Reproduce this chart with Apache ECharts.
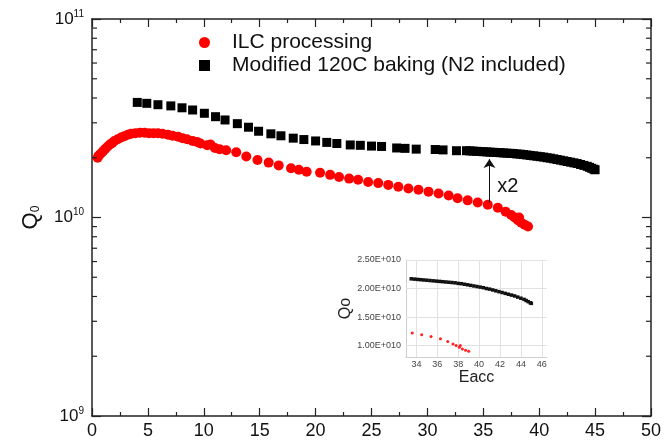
<!DOCTYPE html>
<html>
<head>
<meta charset="utf-8">
<script src="https://cdn.jsdelivr.net/npm/echarts/dist/echarts.min.js"></script>
<style>
html,body{margin:0;padding:0;background:#fff;}
#chart{width:664px;height:441px;}
</style>
</head>
<body>
<div id="chart"></div>
<script>
// ---- data (Eacc in MV/m, Q0) ----
const ilcEacc = [0.5,0.6,0.8,1.0,1.2,1.4,1.6,1.8,2.0,2.3,2.6,2.9,3.2,3.5,3.9,4.3,4.7,5.1,5.5,5.9,6.3,6.8,7.2,7.7,8.1,8.5,9.0,9.4,9.7,10.3,10.6,11.0,11.4,12.0,12.9,13.8,14.8,15.8,16.7,17.8,18.5,19.2,20.4,21.3,22.1,23.0,23.8,24.7,25.6,26.5,27.4,28.3,29.2,30.1,31.0,31.9,32.7,33.6,34.5,35.4,36.3,37.0,37.5,37.8,38.1,38.2,38.4,38.7,39.0];
const ilcQ = [2.00e10,2.05e10,2.10e10,2.16e10,2.22e10,2.28e10,2.33e10,2.37e10,2.43e10,2.48e10,2.53e10,2.57e10,2.61e10,2.64e10,2.66e10,2.67e10,2.67e10,2.66e10,2.66e10,2.66e10,2.64e10,2.61e10,2.58e10,2.55e10,2.51e10,2.48e10,2.43e10,2.40e10,2.36e10,2.31e10,2.33e10,2.24e10,2.21e10,2.18e10,2.13e10,2.03e10,1.95e10,1.89e10,1.83e10,1.77e10,1.74e10,1.70e10,1.68e10,1.64e10,1.60e10,1.57e10,1.55e10,1.51e10,1.49e10,1.46e10,1.43e10,1.40e10,1.38e10,1.35e10,1.32e10,1.29e10,1.25e10,1.22e10,1.19e10,1.16e10,1.12e10,1.07e10,1.03e10,1.00e10,0.97e10,1.00e10,0.94e10,0.92e10,0.90e10];

const bakeEacc = [4.05,4.9,5.9,7.05,8.05,9.0,10.05,11.05,11.9,13.0,14.0,14.9,16.0,16.9,18.0,18.95,20.0,21.0,21.9,23.1,24.0,25.0,25.9,27.25,28.0,29.0,30.7,31.4,32.6,33.5,33.8,34.1,34.4,34.7,35.0,35.3,35.6,35.9,36.2,36.5,36.8,37.1,37.4,37.7,38.0,38.3,38.6,38.9,39.2,39.5,39.8,40.1,40.4,40.7,41.0,41.3,41.6,41.9,42.2,42.5,42.8,43.1,43.4,43.7,44.0,44.3,44.5,44.7,44.9,45.0];
const bakeQ = [3.80e10,3.76e10,3.70e10,3.65e10,3.57e10,3.48e10,3.35e10,3.22e10,3.10e10,2.97e10,2.85e10,2.72e10,2.64e10,2.58e10,2.51e10,2.47e10,2.43e10,2.39e10,2.36e10,2.32e10,2.31e10,2.29e10,2.28e10,2.24e10,2.23e10,2.21e10,2.20e10,2.19e10,2.17e10,2.17e10,2.165e10,2.16e10,2.155e10,2.15e10,2.145e10,2.14e10,2.135e10,2.13e10,2.125e10,2.12e10,2.115e10,2.11e10,2.105e10,2.10e10,2.09e10,2.085e10,2.075e10,2.065e10,2.055e10,2.045e10,2.035e10,2.025e10,2.015e10,2.00e10,1.99e10,1.975e10,1.96e10,1.945e10,1.93e10,1.915e10,1.90e10,1.885e10,1.87e10,1.85e10,1.83e10,1.81e10,1.79e10,1.77e10,1.75e10,1.74e10];

const seriesNames = ['ILC processing', 'Modified 120C baking (N2 included)'];
const xTickLabels = [0,5,10,15,20,25,30,35,40,45,50];
const yMinorTicks = [2e9,3e9,4e9,5e9,6e9,7e9,8e9,9e9,2e10,3e10,4e10,5e10,6e10,7e10,8e10,9e10];
const insetXLabels = [34,36,38,40,42,44,46];
const insetYLabels = [1.0e10,1.5e10,2.0e10,2.5e10];
const arrowEacc = 35.55, arrowFrom = 1.19e10, arrowTo = 1.97e10;
const arrowText = 'x2';
const insetFrom = 33;

// ---- build ----
const ilcData = ilcEacc.map((e, i) => [e, ilcQ[i]]);
const bakeData = bakeEacc.map((e, i) => [e, bakeQ[i]]);
const ilcInset = ilcData.filter(d => d[0] >= insetFrom);
const bakeInset = bakeData.filter(d => d[0] >= insetFrom);

const FONT = "'Liberation Sans', Arial, sans-serif";
const chart = echarts.init(document.getElementById('chart'), null, {renderer: 'canvas'});

const mainX = {
  type: 'value', min: 0, max: 50, interval: 5, gridIndex: 0,
  axisLine: {show: true, onZero: false, lineStyle: {color: '#222', width: 1.5}},
  axisTick: {show: true, inside: true, length: 8, lineStyle: {color: '#222', width: 1.2}},
  minorTick: {show: true, splitNumber: 2, length: 4, lineStyle: {color: '#222', width: 1.2}},
  splitLine: {show: false}
};
const mainY = {
  type: 'log', logBase: 10, min: 1e9, max: 1e11, splitNumber: 2, gridIndex: 0,
  axisLine: {show: true, onZero: false, lineStyle: {color: '#222', width: 1.5}},
  axisTick: {show: true, inside: true, length: 9, lineStyle: {color: '#222', width: 1.2}},
  splitLine: {show: false}
};

const option = {
  backgroundColor: '#fff',
  animation: false,
  textStyle: {fontFamily: FONT},
  legend: {
    data: [
      {name: seriesNames[0], icon: 'circle'},
      {name: seriesNames[1], icon: 'square'}
    ],
    orient: 'vertical', left: 199, top: 32, padding: 0,
    itemWidth: 11, itemHeight: 11, itemGap: 2,
    textStyle: {fontSize: 21, color: '#111', fontFamily: FONT, lineHeight: 21, padding: [0,0,0,17]}
  },
  grid: [
    {left: 92, right: 10, top: 19, bottom: 25, containLabel: false},
    {left: 406, top: 260, width: 141, height: 97, containLabel: false}
  ],
  xAxis: [
    Object.assign({}, mainX, {
      position: 'bottom',
      axisLabel: {show: true, fontSize: 18, color: '#111', margin: 6, fontFamily: FONT,
        formatter: v => (xTickLabels.indexOf(v) >= 0 ? String(v) : '')}
    }),
    Object.assign({}, mainX, {position: 'top', axisLabel: {show: false}}),
    {
      type: 'value', gridIndex: 1, min: 33, max: 46.5, interval: 1,
      name: 'Eacc', nameLocation: 'middle', nameGap: 12,
      nameTextStyle: {fontSize: 16, color: '#222', fontFamily: FONT},
      axisLine: {show: true, onZero: false, lineStyle: {color: '#cfcfcf', width: 1}},
      axisTick: {show: false},
      splitLine: {show: false},
      axisLabel: {show: true, fontSize: 9, color: '#444', margin: 3, fontFamily: FONT,
        formatter: v => (insetXLabels.indexOf(v) >= 0 ? String(v) : '')}
    }
  ],
  yAxis: [
    Object.assign({}, mainY, {
      position: 'left',
      name: '{q|Q}{sub|0}', nameLocation: 'middle', nameGap: 50, nameRotate: 90,
      nameTextStyle: {rich: {
        q: {fontSize: 22, color: '#111', fontFamily: FONT},
        sub: {fontSize: 12, color: '#111', fontFamily: FONT, padding: [10,0,0,0]}
      }},
      axisLabel: {show: true, margin: 8, fontFamily: FONT,
        formatter: v => '{b|10}{s|' + Math.round(Math.log10(v)) + '}',
        rich: {
          b: {fontSize: 17, color: '#111', fontFamily: FONT},
          s: {fontSize: 10, color: '#111', fontFamily: FONT, padding: [0,0,10,0]}
        }}
    }),
    Object.assign({}, mainY, {position: 'right', axisLabel: {show: false}}),
    {
      type: 'value', gridIndex: 1, min: 0.8e10, max: 2.5e10, interval: 0.1e10,
      name: 'Qo', nameLocation: 'middle', nameGap: 50, nameRotate: 90,
      nameTextStyle: {fontSize: 16, color: '#222', fontFamily: FONT},
      axisLine: {show: true, onZero: false, lineStyle: {color: '#cfcfcf', width: 1}},
      axisTick: {show: false},
      splitLine: {show: false},
      axisLabel: {show: true, fontSize: 9, color: '#444', margin: 5, fontFamily: FONT,
        formatter: v => {
          const hit = insetYLabels.some(t => Math.abs(t - v) < 1e6);
          return hit ? (v / 1e10).toFixed(2) + 'E+010' : '';
        }}
    }
  ],
  series: [
    {
      type: 'custom', name: 'minorTicks', xAxisIndex: 0, yAxisIndex: 0,
      silent: true, clip: false, z: 5,
      data: yMinorTicks.map(v => [0, v]),
      encode: {x: 0, y: 1},
      renderItem: (params, api) => {
        const v = api.value(1);
        const a = api.coord([0, v]);
        const b = api.coord([50, v]);
        const st = {stroke: '#222', lineWidth: 1.2};
        return {type: 'group', children: [
          {type: 'line', shape: {x1: a[0], y1: a[1], x2: a[0] + 5, y2: a[1]}, style: st},
          {type: 'line', shape: {x1: b[0] - 5, y1: b[1], x2: b[0], y2: b[1]}, style: st}
        ]};
      }
    },
    {
      type: 'scatter', name: seriesNames[0], xAxisIndex: 0, yAxisIndex: 0,
      data: ilcData, symbol: 'circle', symbolSize: 10,
      itemStyle: {color: '#ff0000', opacity: 1}, z: 3,
      markLine: {
        silent: true, symbol: ['none', 'arrow'], symbolSize: 9, precision: 3,
        lineStyle: {color: '#111', width: 1, type: 'solid'},
        label: {show: false},
        data: [[{coord: [arrowEacc, arrowFrom]}, {coord: [arrowEacc, arrowTo]}]]
      },
      markPoint: {
        silent: true, symbol: 'circle', symbolSize: 1,
        itemStyle: {color: 'rgba(0,0,0,0)'},
        label: {show: true, position: 'inside', formatter: arrowText, fontSize: 20, color: '#111', fontFamily: FONT},
        data: [{coord: [37.2, 1.425e10]}]
      }
    },
    {
      type: 'scatter', name: seriesNames[1], xAxisIndex: 0, yAxisIndex: 0,
      data: bakeData, symbol: 'rect', symbolSize: 9,
      itemStyle: {color: '#000', opacity: 1}, z: 3
    },
    {
      type: 'scatter', name: 'insetILC', xAxisIndex: 2, yAxisIndex: 2,
      data: ilcInset, symbol: 'circle', symbolSize: 3,
      itemStyle: {color: '#ff2020', opacity: 1}, z: 6,
      markLine: {
        silent: true, symbol: 'none', precision: 3, z: 1,
        lineStyle: {color: '#e2e2e2', width: 1, type: 'solid'},
        label: {show: false},
        data: insetXLabels.map(v => ({xAxis: v})).concat(insetYLabels.map(v => ({yAxis: v})))
      }
    },
    {
      type: 'scatter', name: 'insetBake', xAxisIndex: 2, yAxisIndex: 2,
      data: bakeInset, symbol: 'rect', symbolSize: 3.5,
      itemStyle: {color: '#111', opacity: 1}, z: 6
    }
  ]
};
chart.setOption(option);
</script>
</body>
</html>
